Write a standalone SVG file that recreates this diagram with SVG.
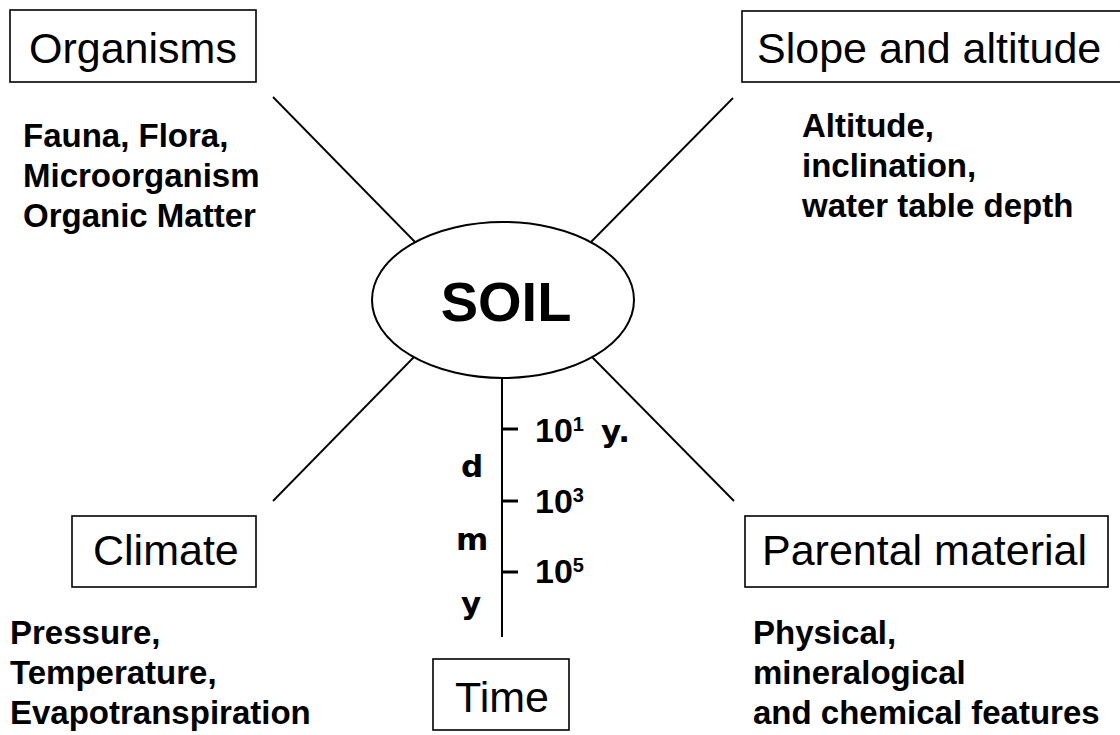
<svg xmlns="http://www.w3.org/2000/svg" width="1120" height="735" viewBox="0 0 1120 735">
<style>
.box{fill:#fff;stroke:#000;stroke-width:1.6}
.title{font-family:"Liberation Sans",Arial,sans-serif;font-size:43px;fill:#000}
.desc{font-family:"Liberation Sans",Arial,sans-serif;font-size:33px;font-weight:bold;fill:#000}
.conn line{stroke:#000;stroke-width:1.8;fill:none}
.scale{font-family:"Liberation Sans",Arial,sans-serif;font-weight:bold;fill:#000}
.lt{font-family:"DejaVu Sans",sans-serif;font-weight:bold;font-size:31px;fill:#000}
</style>
<rect width="1120" height="735" fill="#fff"/>
<g id="connectors" class="conn">
<line x1="273" y1="97" x2="415" y2="242"/>
<line x1="733" y1="98" x2="591" y2="242"/>
<line x1="414" y1="357" x2="273" y2="501"/>
<line x1="592" y1="357" x2="734" y2="501"/>
</g>
<g id="soil">
<ellipse cx="503" cy="300" rx="131" ry="78" fill="#fff" stroke="#000" stroke-width="2"/>
<text x="506" y="321" text-anchor="middle" font-family="Liberation Sans, Arial, sans-serif" font-size="56" font-weight="bold">SOIL</text>
</g>
<g id="organisms">
<rect class="box" x="10" y="10" width="246" height="72"/>
<text class="title" x="29" y="63">Organisms</text>
<text class="desc" x="23" y="147">Fauna, Flora,</text>
<text class="desc" x="23" y="187">Microorganism</text>
<text class="desc" x="23" y="227">Organic Matter</text>
</g>
<g id="slope">
<rect class="box" x="742" y="11" width="400" height="71"/>
<text class="title" x="757" y="63">Slope and altitude</text>
<text class="desc" x="802" y="137">Altitude,</text>
<text class="desc" x="802" y="177">inclination,</text>
<text class="desc" x="802" y="217">water table depth</text>
</g>
<g id="climate">
<rect class="box" x="72" y="516" width="184" height="71"/>
<text class="title" x="93" y="565" font-size="42">Climate</text>
<text class="desc" x="10" y="644">Pressure,</text>
<text class="desc" x="10" y="684">Temperature,</text>
<text class="desc" x="10" y="724">Evapotranspiration</text>
</g>
<g id="parental">
<rect class="box" x="745" y="516" width="363" height="71"/>
<text class="title" x="762" y="565">Parental material</text>
<text class="desc" x="753" y="644">Physical,</text>
<text class="desc" x="753" y="684">mineralogical</text>
<text class="desc" x="753" y="724">and chemical features</text>
</g>
<g id="time">
<rect class="box" x="433" y="659" width="136" height="71"/>
<text class="title" x="455" y="712" font-size="42">Time</text>
</g>
<g id="time-scale">
<line x1="502" y1="378" x2="502" y2="637" stroke="#000" stroke-width="2"/>
<line x1="502" y1="429" x2="518" y2="429" stroke="#000" stroke-width="3"/>
<line x1="502" y1="501" x2="518" y2="501" stroke="#000" stroke-width="3"/>
<line x1="502" y1="572" x2="518" y2="572" stroke="#000" stroke-width="3"/>
<text class="scale" x="535" y="442" font-size="34">10<tspan font-size="20" dy="-11">1</tspan></text>
<text class="lt" x="601" y="442">y.</text>
<text class="scale" x="535" y="513" font-size="34">10<tspan font-size="20" dy="-11">3</tspan></text>
<text class="scale" x="535" y="583" font-size="34">10<tspan font-size="20" dy="-11">5</tspan></text>
<text class="lt" x="461" y="477">d</text>
<text class="lt" x="456" y="550">m</text>
<text class="lt" x="461" y="614">y</text>
</g>
</svg>
